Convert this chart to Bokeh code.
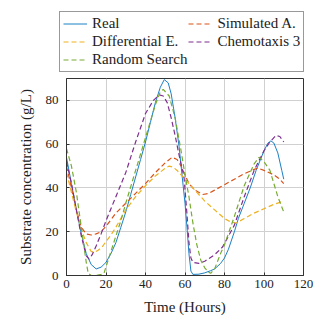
from bokeh.plotting import figure
from bokeh.models import Legend, LegendItem, FixedTicker, Range1d
from bokeh.layouts import column
from bokeh.embed import file_html
from bokeh.resources import INLINE

# Real
t_real = [0, 2.5, 5, 7.5, 10, 12.5, 15, 17.5, 20, 22.5, 25, 27.5, 30, 32.5, 35, 37.5, 40, 42.5, 45, 47.5,
          49.5, 51.5, 53, 55, 57, 58.6, 60, 61, 62, 63, 64, 67, 70, 73, 75, 78, 80, 82, 85, 87, 90, 93, 96,
          100, 102, 103.5, 105, 107, 109, 110]
v_real = [54, 42, 30, 19, 10, 5, 3, 3.8, 6, 10, 15, 22, 29, 37, 45, 53, 61, 70, 79, 86,
          89.5, 88, 83, 72, 59, 45, 33, 22, 10, 2, 0.5, 0.6, 1.2, 2.2, 3, 5.5, 8, 12, 20, 26, 33, 40, 48,
          57, 60.5, 61.5, 60.5, 56, 48, 44]

# Simulated A.
t_sa = [0, 2.5, 5, 7.5, 10, 12.5, 15, 17.5, 20, 22.5, 25, 30, 35, 40, 45, 50, 53.5, 56, 58, 60, 62, 65,
        69, 72, 75, 80, 85, 90, 95, 97, 100, 105, 108, 110]
v_sa = [50, 40, 30, 22, 19, 18.5, 19, 20, 22.5, 25.5, 28.5, 33, 37.5, 42, 47, 51.5, 54, 53, 50, 46, 42, 39,
        37, 37.5, 39, 41.5, 44, 46.5, 48.5, 49, 48, 46, 44, 42]

# Differential E.
t_de = [0, 2.5, 5, 7.5, 10, 12.5, 14, 16, 18, 20, 22.5, 25, 27.5, 30, 35, 40, 45, 50, 52, 54, 56, 58,
        60, 65, 70, 75, 80, 83, 86, 90, 95, 100, 105, 108.5, 110]
v_de = [47, 38, 29, 21, 15, 11, 10.5, 11.5, 13, 15.5, 18.5, 22, 26, 30, 36, 41, 45.5, 49, 50, 49.5, 48, 46,
        44, 39, 34, 30, 26, 24.5, 24, 26, 28.5, 30.5, 32.5, 33.5, 33]

# Chemotaxis 3
t_ch = [0, 2.5, 5, 7.5, 10, 11.5, 13, 15, 17.5, 20, 25, 30, 35, 40, 44, 47, 49, 51, 53, 55, 57, 59.5,
        61, 62, 63, 64, 67, 70, 75, 79, 85, 90, 95, 100, 103, 106, 108, 110]
v_ch = [52, 42, 30, 18, 9, 7.5, 9.5, 13.5, 19, 25, 36, 47, 61, 74, 80, 82.5, 82, 79, 72, 64, 55, 45,
        28, 15, 8, 6, 5.5, 6.5, 9.5, 13, 23, 36, 48, 57, 61, 64, 63.5, 61]

# Random Search
t_rs = [0, 2.5, 5, 7.5, 10, 11, 12.5, 15, 17.5, 19, 20, 22.5, 25, 27.5, 30, 35, 40, 45, 47.5, 49, 52, 55,
        58, 60, 62, 64, 66, 68, 70, 72, 73, 75, 78, 80, 85, 90, 95, 97.5, 100, 103, 105, 107, 110]
v_rs = [58, 50, 38, 22, 6, 1, 0, 0, 0.5, 1, 4, 11, 18, 25, 33, 48, 63, 78, 84, 85, 82, 72,
        57, 46, 36, 24, 14, 7, 3.5, 1.5, 1, 3, 10, 14, 27, 41, 51, 54, 52, 48, 42, 36, 29]

labels = ["Real", "Simulated A.", "Differential E.", "Chemotaxis 3", "Random Search"]
colors = ["#0072bd", "#d95319", "#edb120", "#7e2f8e", "#77ac30"]

x_ticks = [0, 20, 40, 60, 80, 100, 120]
y_ticks = [0, 20, 40, 60, 80]

FONT = "Liberation Serif"
DASH = "5 3"

series = [(t_real, v_real), (t_sa, v_sa), (t_de, v_de), (t_ch, v_ch), (t_rs, v_rs)]


def draw(fig, i, tt, vv):
    if i == 0:
        return fig.line(tt, vv, line_color=colors[i], line_width=0.9)
    return fig.line(tt, vv, line_color=colors[i], line_width=1.2, line_dash=DASH)


# ---------- main plot ----------
p = figure(width=326, height=247, output_backend="svg", toolbar_location=None,
           x_range=Range1d(0, 120), y_range=Range1d(0, 90),
           min_border_left=66, min_border_right=23, min_border_top=4, min_border_bottom=46)

p.background_fill_color = "white"
p.outline_line_color = "#333333"
p.outline_line_width = 1

for ax in (p.xaxis[0], p.yaxis[0]):
    ax.axis_line_color = "#333333"
    ax.major_tick_in = 3
    ax.major_tick_out = 0
    ax.minor_tick_line_color = None
    ax.major_tick_line_color = "#333333"
    ax.major_label_text_font = FONT
    ax.major_label_text_font_size = "13px"
    ax.major_label_text_color = "#222222"
    ax.axis_label_text_font = FONT
    ax.axis_label_text_font_size = "15px"
    ax.axis_label_text_font_style = "normal"
    ax.axis_label_text_color = "#222222"

p.xaxis.ticker = FixedTicker(ticks=x_ticks)
p.yaxis.ticker = FixedTicker(ticks=y_ticks)
p.xaxis.axis_label = "Time (Hours)"
p.yaxis.axis_label = "Substrate concentration (g/L)"
p.xaxis.major_label_standoff = 4
p.yaxis.major_label_standoff = 8
p.xaxis.axis_label_standoff = 8
p.yaxis.axis_label_standoff = 9

p.grid.grid_line_color = "#d0d0d0"
p.grid.grid_line_width = 1

for i, (tt, vv) in enumerate(series):
    draw(p, i, tt, vv)

# ---------- legend strip (same series, kept out of its view; only the legend shows) ----------
lf = figure(width=326, height=74, output_backend="svg", toolbar_location=None,
            x_axis_type=None, y_axis_type=None, min_border=0,
            x_range=Range1d(1000, 1001), y_range=Range1d(1000, 1001))
lf.outline_line_color = None
lf.grid.visible = False
try:
    lf.frame_align = False
except Exception:
    pass

items = []
for i, (tt, vv) in enumerate(series):
    r = draw(lf, i, tt, vv)
    items.append(LegendItem(label=labels[i], renderers=[r]))

legend = Legend(items=items, location=(59, 2), orientation="horizontal", ncols=2)
legend.label_text_font = FONT
legend.label_text_font_size = "15px"
legend.label_text_color = "#222222"
legend.border_line_color = "#333333"
legend.border_line_width = 1
legend.background_fill_alpha = 1
legend.padding = 3
legend.spacing = 1
legend.glyph_width = 24
legend.glyph_height = 17
legend.label_height = 17
legend.label_standoff = 5
legend.margin = 0
lf.add_layout(legend, "center")

layout = column(lf, p, spacing=0)
open("out.html", "w").write(file_html(layout, INLINE))
